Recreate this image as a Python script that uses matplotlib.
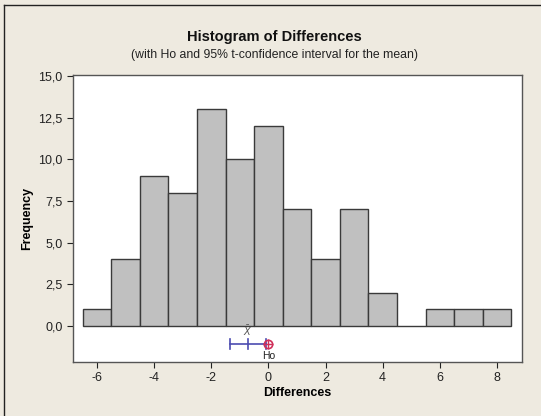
import matplotlib
matplotlib.use("Agg")
import matplotlib.pyplot as plt
from matplotlib.ticker import FuncFormatter

BG = "#EEEAE0"

bin_centers = [-6, -5, -4, -3, -2, -1, 0, 1, 2, 3, 4, 5, 6, 7, 8]
counts = [1, 4, 9, 8, 13, 10, 12, 7, 4, 7, 2, 0, 1, 1, 1]
mean_diff = -0.72
ci_low, ci_high = -1.33, -0.08
h0 = 0
y_ticks = [0, 2.5, 5.0, 7.5, 10.0, 12.5, 15.0]
x_ticks = [-6, -4, -2, 0, 2, 4, 6, 8]

plt.rcParams["font.family"] = ["Liberation Sans", "DejaVu Sans"]

fig = plt.figure(figsize=(5.41, 4.16), dpi=100, facecolor=BG)
ax = fig.add_axes([0.135, 0.130, 0.830, 0.690])
ax.set_facecolor("white")

ax.bar(bin_centers, counts, width=1.0, color="#C0C0C0",
       edgecolor="#3a3a3a", linewidth=1.0)

# confidence interval for the mean + Ho marker
ci_y = -1.08
ax.plot([ci_low, ci_high], [ci_y, ci_y], color="#4b4bb0", lw=1.2)
for xv in (ci_low, mean_diff, ci_high):
    ax.plot([xv, xv], [ci_y - 0.3, ci_y + 0.3], color="#4b4bb0", lw=1.2)
ax.plot(h0, ci_y, marker="o", ms=6, mfc="none", mec="#d0305a", mew=1.2)
ax.plot(h0, ci_y, marker="+", ms=7, mec="#d0305a", mew=1.0)
ax.text(mean_diff, ci_y + 0.35, "$\\bar{X}$", ha="center", va="bottom",
        fontsize=7, color="#555555")
ax.text(h0, ci_y - 0.4, "Ho", ha="center", va="top", fontsize=7.5,
        color="#222222")

ax.set_xlim(-6.84, 8.88)
ax.set_ylim(-2.16, 15.06)
ax.set_yticks(y_ticks)
ax.set_xticks(x_ticks)
ax.yaxis.set_major_formatter(FuncFormatter(lambda v, p: f"{v:.1f}".replace(".", ",")))
ax.xaxis.set_major_formatter(FuncFormatter(lambda v, p: f"{v:g}"))
ax.tick_params(direction="out", length=4, width=0.8, labelsize=9,
               colors="#222222")

for spine in ax.spines.values():
    spine.set_color("#555555")
    spine.set_linewidth(1.0)

ax.set_xlabel("Differences", fontsize=9, fontweight="bold", labelpad=2)
ax.set_ylabel("Frequency", fontsize=9, fontweight="bold", labelpad=4)

fig.text(0.508, 0.911, "Histogram of Differences", ha="center", va="center",
         fontsize=10.5, fontweight="bold", color="#111111")
fig.text(0.508, 0.868, "(with Ho and 95% t-confidence interval for the mean)",
         ha="center", va="center", fontsize=8.8, color="#222222")

# figure border (left and top)
fig.add_artist(plt.Line2D([0.008, 0.008], [0, 0.988], color="#222222", lw=1.0))
fig.add_artist(plt.Line2D([0.008, 1], [0.988, 0.988], color="#222222", lw=1.0))

fig.savefig("out.png", dpi=100, facecolor=BG)
